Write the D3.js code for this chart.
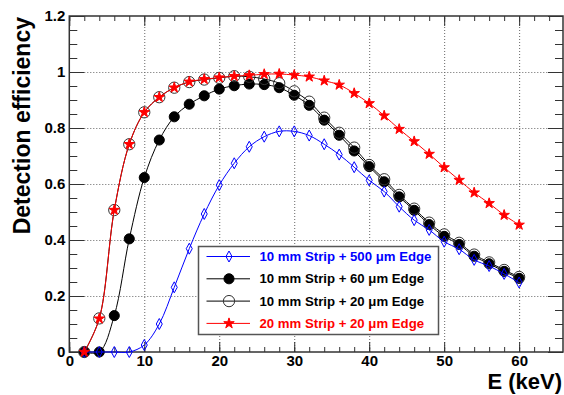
<!DOCTYPE html>
<html>
<head>
<meta charset="utf-8">
<script src="https://cdn.jsdelivr.net/npm/d3@7"></script>
<style>
  body { margin: 0; background: #fff; }
  text { font-family: "Liberation Sans", Arial, sans-serif; font-weight: bold; }
</style>
</head>
<body>
<script>
// energies (keV)
var energy = [2, 4, 6, 8, 10, 12, 14, 16, 18, 20, 22, 24, 26, 28, 30,
              32, 34, 36, 38, 40, 42, 44, 46, 48, 50, 52, 54, 56, 58, 60];

// 10 mm strip + 500 um edge
var eff10mm500 = [0, 0, 0, 0, 0.025, 0.100, 0.231, 0.369, 0.493, 0.596, 0.674, 0.733, 0.769, 0.788, 0.788,
                  0.773, 0.742, 0.705, 0.660, 0.613, 0.573, 0.519, 0.471, 0.436, 0.394, 0.367, 0.329, 0.307, 0.279, 0.248];
// 10 mm strip + 60 um edge
var eff10mm60 = [0, 0, 0.130, 0.404, 0.623, 0.757, 0.840, 0.885, 0.915, 0.939, 0.951, 0.957, 0.955, 0.944, 0.917,
                 0.881, 0.828, 0.774, 0.718, 0.662, 0.608, 0.554, 0.506, 0.455, 0.413, 0.384, 0.342, 0.315, 0.288, 0.263];
// 10 mm strip + 20 um edge
var eff10mm20 = [0, 0.120, 0.507, 0.742, 0.856, 0.910, 0.944, 0.964, 0.973, 0.979, 0.985, 0.983, 0.975, 0.960, 0.931,
                 0.894, 0.837, 0.783, 0.730, 0.668, 0.617, 0.561, 0.512, 0.462, 0.420, 0.390, 0.348, 0.320, 0.293, 0.268];
// 20 mm strip + 20 um edge
var eff20mm20 = [0, 0.119, 0.507, 0.742, 0.856, 0.910, 0.944, 0.965, 0.974, 0.980, 0.985, 0.988, 0.992, 0.993, 0.989,
                 0.983, 0.969, 0.954, 0.924, 0.888, 0.844, 0.796, 0.752, 0.707, 0.659, 0.614, 0.569, 0.531, 0.489, 0.454];

var legendLabels = ["10 mm Strip + 500 \u03bcm Edge", "10 mm Strip + 60 \u03bcm Edge",
                    "10 mm Strip + 20 \u03bcm Edge", "20 mm Strip + 20 \u03bcm Edge"];

var xMajor = [0, 10, 20, 30, 40, 50, 60];
var yMajor = [0, 0.2, 0.4, 0.6, 0.8, 1, 1.2];
var xGrid = [10, 20, 30, 40, 50, 60];
var yGrid = [0.2, 0.4, 0.6, 0.8, 1];

var W = 564, H = 395;
var plotL = 69.3, plotR = 563, plotT = 16, plotB = 352;

var svg = d3.select("body").append("svg")
    .attr("width", W)
    .attr("height", H);

var x = d3.scaleLinear().domain([0, 65.85]).range([plotL, plotR]);
var y = d3.scaleLinear().domain([0, 1.2]).range([plotB, plotT]);

var xMinor = d3.range(0, 66, 2);
var yMinor = d3.range(0, 1.2001, 0.05);

// сетка
svg.append("g")
    .attr("transform", "translate(0," + plotB + ")")
    .call(d3.axisBottom(x).tickValues(xGrid).tickSize(-(plotB - plotT)).tickFormat(""))
    .call(function (g) { g.select(".domain").remove(); })
    .selectAll("line").attr("stroke", "#666").attr("stroke-dasharray", "1,2");
svg.append("g")
    .attr("transform", "translate(" + plotL + ",0)")
    .call(d3.axisLeft(y).tickValues(yGrid).tickSize(-(plotR - plotL)).tickFormat(""))
    .call(function (g) { g.select(".domain").remove(); })
    .selectAll("line").attr("stroke", "#666").attr("stroke-dasharray", "1,2");

// оси с делениями внутрь
function ticks(axis, tr, vals, len, labels) {
  var g = svg.append("g").attr("transform", tr)
      .call(axis.tickValues(vals).tickSizeInner(-len).tickSizeOuter(0)
             .tickPadding(labels ? labels : 0)
             .tickFormat(labels ? function (d) { return String(d); } : ""));
  g.select(".domain").remove();
  g.selectAll("line").attr("stroke", "#333");
  g.selectAll("text").attr("font-size", 15).attr("fill", "#000")
      .attr("font-family", "'Liberation Sans', Arial, sans-serif");
  return g;
}
ticks(d3.axisBottom(x), "translate(0," + plotB + ")", xMajor, 10, 3);
ticks(d3.axisBottom(x), "translate(0," + plotB + ")", xMinor, 5);
ticks(d3.axisTop(x), "translate(0," + plotT + ")", xMajor, 10);
ticks(d3.axisTop(x), "translate(0," + plotT + ")", xMinor, 5);
ticks(d3.axisLeft(y), "translate(" + plotL + ",0)", yMajor, 15, 4);
ticks(d3.axisLeft(y), "translate(" + plotL + ",0)", yMinor, 8);
ticks(d3.axisRight(y), "translate(" + plotR + ",0)", yMajor, 15);
ticks(d3.axisRight(y), "translate(" + plotR + ",0)", yMinor, 8);

// рамка
svg.append("rect")
    .attr("x", plotL).attr("y", plotT)
    .attr("width", plotR - plotL).attr("height", plotB - plotT)
    .style("fill", "none").style("stroke", "#333").style("stroke-width", 1.5);

// маркеры
var diamond = {
  draw: function (ctx, size) {
    var w = 3, h = 5.5;
    ctx.moveTo(0, -h); ctx.lineTo(w, 0); ctx.lineTo(0, h); ctx.lineTo(-w, 0); ctx.closePath();
  }
};

var series = [
  { vals: eff10mm60,  color: "#000", text: "#000", sym: d3.symbol().type(d3.symbolCircle).size(80), fill: "#000", stroke: "#000", leg: 1 },
  { vals: eff10mm20,  color: "#000", text: "#000", sym: d3.symbol().type(d3.symbolCircle).size(100), fill: "none", stroke: "#333", leg: 2 },
  { vals: eff10mm500, color: "#0000ff", text: "#0000ff", sym: d3.symbol().type(diamond), fill: "none", stroke: "#0000ff", leg: 0 },
  { vals: eff20mm20,  color: "#ff0000", text: "#ff0000", sym: d3.symbol().type(d3.symbolStar).size(34), fill: "#ff0000", stroke: "#ff0000", leg: 3 }
];

var line = d3.line()
    .x(function (d) { return x(d[0]); })
    .y(function (d) { return y(d[1]); })
    .curve(d3.curveCatmullRom.alpha(0.5));

series.forEach(function (s) {
  var pts = energy.map(function (e, i) { return [e, s.vals[i]]; });
  svg.append("path").attr("d", line(pts))
      .style("fill", "none").style("stroke", s.color).style("stroke-width", 1);
  svg.append("g").selectAll("path").data(pts).enter().append("path")
      .attr("d", s.sym)
      .attr("transform", function (d) { return "translate(" + x(d[0]) + "," + y(d[1]) + ")"; })
      .style("fill", s.fill).style("stroke", s.stroke).style("stroke-width", 1);
});

// легенда
var lg = svg.append("g");
lg.append("rect")
    .attr("x", 198.5).attr("y", 246.5).attr("width", 240).attr("height", 88)
    .style("fill", "#fff").style("stroke", "#555").style("stroke-width", 1.5);
series.forEach(function (s) {
  var cy = 256.5 + s.leg * 22.3;
  lg.append("line").attr("x1", 206.5).attr("x2", 250).attr("y1", cy).attr("y2", cy)
      .style("stroke", s.color).style("stroke-width", 1);
  lg.append("path").attr("d", s.sym)
      .attr("transform", "translate(229," + cy + ")")
      .style("fill", s.fill).style("stroke", s.stroke).style("stroke-width", 1);
  lg.append("text").attr("x", 259.5).attr("y", cy + 4.6)
      .attr("font-size", 13.2).attr("fill", s.text)
      .text(legendLabels[s.leg]);
});

// подписи осей
svg.append("text")
    .attr("x", 562).attr("y", 389)
    .attr("text-anchor", "end").attr("font-size", 22)
    .text("E (keV)");
svg.append("text")
    .attr("transform", "translate(30,17) rotate(-90)")
    .attr("text-anchor", "end").attr("font-size", 23)
    .text("Detection efficiency");
</script>
</body>
</html>
